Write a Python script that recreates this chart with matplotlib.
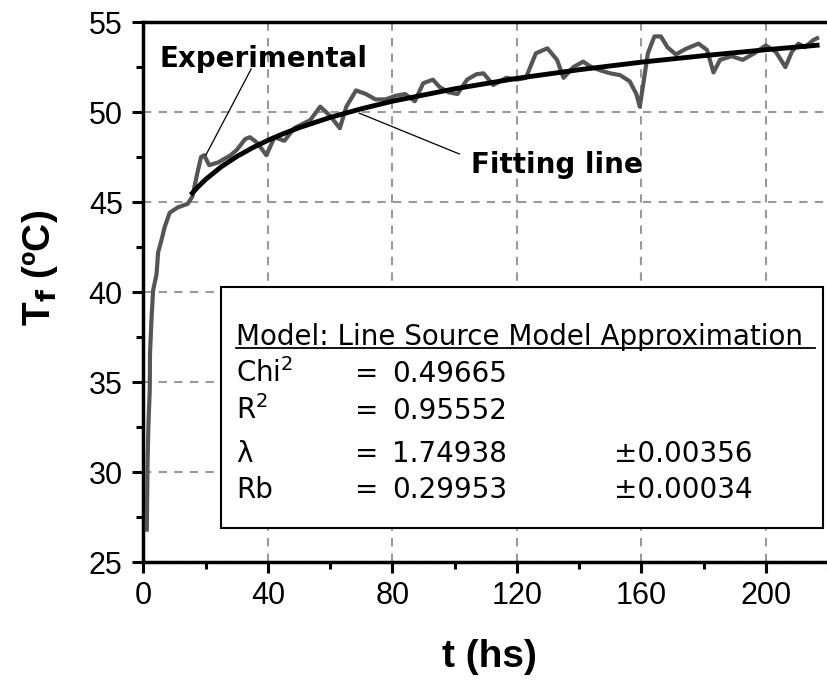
import matplotlib
matplotlib.use("Agg")
import matplotlib.pyplot as plt
from matplotlib.patches import Rectangle

plt.rcParams['font.family'] = ['Liberation Sans', 'DejaVu Sans']
plt.rcParams['mathtext.fontset'] = 'dejavusans'

# experimental curve
t_exp = [1.05, 1.3, 1.6, 2.0, 2.1, 2.6, 3.1, 4.2, 4.7, 5.8, 6.8, 8.4, 11.0, 14.2,
         15.7, 17.3, 18.5, 19.5, 21.1, 24, 28, 30, 32.7, 34.2, 36.5, 39.5, 42.1,
         45.3, 48.4, 53.6, 56.8, 59.9, 63.1, 65.2, 68.3, 71.5, 74.6, 77.8, 81,
         84.1, 87.2, 89.9, 93, 95.1, 98, 100.9, 104, 107, 109.3, 112.4, 116.6,
         120, 122.9, 126.1, 129.8, 132.9, 135, 138.2, 141.3, 143.9, 147.1, 150,
         153.2, 156.3, 158.4, 159.5, 160.5, 162.1, 164.2, 166.3, 168.4, 171.1,
         174.2, 178.4, 181.1, 183.2, 185.3, 189, 192.6, 196.3, 200, 203.2, 206.3,
         208.4, 210.5, 212.6, 215.3, 216.5]
T_exp = [26.8, 30.5, 32.7, 34.5, 36.6, 38.6, 40.1, 41.0, 42.2, 42.9, 43.6, 44.4,
         44.7, 44.9, 45.3, 46.6, 47.5, 47.6, 47.05, 47.2, 47.6, 47.9, 48.5, 48.6,
         48.3, 47.6, 48.6, 48.4, 49.1, 49.55, 50.3, 49.8, 49.1, 50.3, 51.2, 51.0,
         50.7, 50.7, 50.9, 51.0, 50.6, 51.6, 51.8, 51.4, 51.1, 51.0, 51.8, 52.1,
         52.15, 51.5, 51.9, 51.8, 51.9, 53.26, 53.54, 52.9, 51.9, 52.5, 52.8, 52.5,
         52.3, 52.15, 52.05, 51.7, 51.0, 50.3, 51.4, 53.26, 54.2, 54.2, 53.6, 53.2,
         53.5, 53.8, 53.45, 52.2, 52.9, 53.1, 52.9, 53.26, 53.7, 53.35, 52.5, 53.35,
         53.8, 53.6, 54.0, 54.1]

# fitting line
t_fit = [15.7, 17.5, 20, 25, 30, 35, 40, 45, 50, 60, 70, 80, 100, 120, 140, 160,
         180, 200, 216.5]
T_fit = [45.5, 45.84, 46.26, 46.96, 47.53, 48.01, 48.43, 48.80, 49.13, 49.70,
         50.18, 50.60, 51.29, 51.87, 52.35, 52.77, 53.13, 53.46, 53.71]

x_ticks = [0, 40, 80, 120, 160, 200]
y_ticks = [25, 30, 35, 40, 45, 50, 55]

box_labels = ['Chi$^2$', 'R$^2$', 'λ', 'Rb']
box_values = ['0.49665', '0.95552', '1.74938', '0.29953']
box_errors = ['', '', '±0.00356', '±0.00034']

fig = plt.figure(figsize=(8.28, 6.8), dpi=100)
ax = fig.add_axes([0.1733, 0.1735, 0.8267, 0.7941])

ax.plot(t_exp, T_exp, color='#555555', lw=3, zorder=3)
ax.plot(t_fit, T_fit, color='black', lw=3.5, zorder=4)

ax.set_xlim(0, 216)
ax.set_ylim(25, 55)
ax.set_xticks(x_ticks)
ax.set_yticks(y_ticks)
ax.set_xticks([20, 60, 100, 140, 180, 220], minor=True)
ax.set_yticks([27.5, 32.5, 37.5, 42.5, 47.5, 52.5], minor=True)
ax.tick_params(which='major', direction='out', length=8, width=2.2,
               labelsize=22, pad=6)
ax.tick_params(which='minor', direction='out', length=5, width=2.2)
ax.tick_params(axis='y', pad=7)

for s in ['left', 'bottom', 'top']:
    ax.spines[s].set_linewidth(2.5)
ax.spines['right'].set_visible(False)

ax.grid(True, which='major', color='#999999', lw=1.5, linestyle=(0, (4, 3.5)))
ax.set_axisbelow(True)

# annotations
ax.text(5.2, 52.52, 'Experimental', fontsize=20, fontweight='bold',
        family='DejaVu Sans', va='baseline')
ax.plot([34.6, 20.05], [52.39, 47.61], color='black', lw=0.9, zorder=5)
ax.text(105.2, 46.61, 'Fitting line', fontsize=20, fontweight='bold',
        family='DejaVu Sans', va='baseline')
ax.plot([69.3, 101.5], [49.94, 47.67], color='black', lw=0.9, zorder=5)

# result box
ax.add_patch(Rectangle((0.1139, 0.063), 0.8788, 0.4463, transform=ax.transAxes,
                       facecolor='white', edgecolor='black', lw=1.5, zorder=6))
ax.text(0.1358, 0.4019, 'Model: Line Source Model Approximation', fontsize=20,
        family='DejaVu Sans', transform=ax.transAxes, va='baseline', zorder=7)
ax.plot([0.1358, 0.981], [0.3963, 0.3963], color='black', lw=1.3,
        transform=ax.transAxes, zorder=7)
rows_y = [0.3333, 0.2648, 0.1852, 0.1185]
for y, lab, val, err in zip(rows_y, box_labels, box_values, box_errors):
    ax.text(0.1358, y, lab, fontsize=20, family='DejaVu Sans',
            transform=ax.transAxes, va='baseline', zorder=7)
    ax.text(0.3095, y, '=', fontsize=20, family='DejaVu Sans',
            transform=ax.transAxes, va='baseline', zorder=7)
    ax.text(0.3635, y, val, fontsize=20, family='DejaVu Sans',
            transform=ax.transAxes, va='baseline', zorder=7)
    if err:
        ax.text(0.6876, y, err, fontsize=20, family='DejaVu Sans',
                transform=ax.transAxes, va='baseline', zorder=7)

fig.text(0.5906, 0.0191, 't (hs)', fontsize=28, fontweight='bold',
         ha='center', va='baseline')
fig.text(0.048, 0.606, r'T$_{\bf f}$ (ºC)', fontsize=28, fontweight='bold',
         rotation=90, ha='center', va='center')

fig.savefig('out.png', dpi=100)
